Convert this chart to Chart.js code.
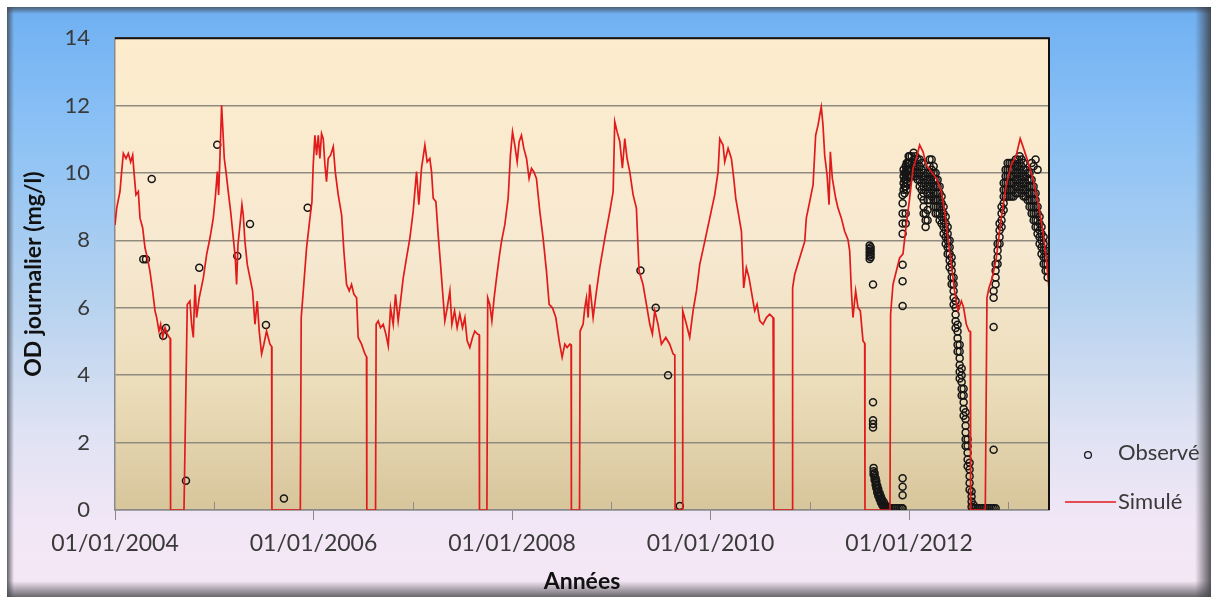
<!DOCTYPE html>
<html><head><meta charset="utf-8">
<script src="https://cdn.jsdelivr.net/npm/chart.js@4.4.1/dist/chart.umd.min.js"></script>
<style>html,body{margin:0;padding:0;background:#fff}#wrap{width:1211px;height:597px}</style>
</head><body><div id="wrap"><canvas id="c" width="1211" height="597"></canvas></div>
<script>
// ---- data (dates as decimal years, values in mg/l) ----
const yTicks = [0, 2, 4, 6, 8, 10, 12, 14];
const yearTicks = [2004, 2005, 2006, 2007, 2008, 2009, 2010, 2011, 2012, 2013];
const xMin = 2004, xMax = 2013.41;

const simDates = [
2004.000,2004.017,2004.050,2004.067,2004.084,2004.111,2004.134,2004.158,2004.178,2004.191,2004.211,2004.235,2004.252,2004.279,2004.302,2004.326,2004.352,2004.379,2004.403,2004.420,2004.443,2004.460,2004.480,2004.504,2004.527,2004.547,2004.556,2004.560,
2004.695,2004.728,2004.755,2004.772,2004.789,2004.806,2004.822,2004.849,2004.890,2004.923,2004.957,2004.990,2005.010,2005.031,2005.044,2005.057,2005.074,2005.088,2005.101,2005.118,2005.141,2005.165,2005.192,2005.212,2005.225,2005.239,2005.259,2005.279,2005.292,2005.309,2005.333,2005.360,2005.386,2005.410,2005.433,2005.453,2005.477,2005.500,2005.527,2005.561,2005.578,2005.581,
2005.867,2005.876,2005.897,2005.930,2005.964,2005.984,2005.997,2006.014,2006.031,2006.048,2006.064,2006.081,2006.098,2006.115,2006.131,2006.148,2006.172,2006.199,2006.219,2006.249,2006.283,2006.306,2006.333,2006.360,2006.383,2006.407,2006.434,2006.450,2006.484,2006.518,2006.534,2006.537,
2006.625,2006.631,2006.652,2006.675,2006.702,2006.729,2006.753,2006.776,2006.803,2006.826,2006.853,2006.877,2006.904,2006.937,2006.971,2007.004,2007.038,2007.061,2007.088,2007.122,2007.145,2007.172,2007.189,2007.206,2007.233,2007.256,2007.280,2007.300,2007.323,2007.347,2007.374,2007.394,2007.421,2007.447,2007.474,2007.501,2007.525,2007.548,2007.575,2007.602,2007.625,2007.652,2007.669,2007.672,
2007.747,2007.755,2007.776,2007.797,2007.820,2007.844,2007.870,2007.894,2007.927,2007.961,2007.984,2008.005,2008.028,2008.052,2008.072,2008.095,2008.119,2008.146,2008.172,2008.196,2008.219,2008.246,2008.280,2008.313,2008.347,2008.374,2008.407,2008.441,2008.475,2008.505,2008.532,2008.555,2008.582,2008.595,2008.598,
2008.680,2008.686,2008.716,2008.733,2008.750,2008.767,2008.783,2008.817,2008.851,2008.884,2008.935,2008.985,2009.019,2009.035,2009.059,2009.086,2009.112,2009.136,2009.159,2009.186,2009.220,2009.253,2009.280,2009.320,2009.354,2009.388,2009.414,2009.438,2009.471,2009.505,2009.549,2009.589,2009.623,2009.640,2009.643,
2009.714,2009.720,2009.757,2009.790,2009.824,2009.858,2009.891,2009.942,2009.992,2010.042,2010.076,2010.093,2010.126,2010.143,2010.177,2010.210,2010.234,2010.254,2010.277,2010.311,2010.334,2010.361,2010.388,2010.422,2010.445,2010.469,2010.496,2010.529,2010.563,2010.596,2010.630,2010.636,2010.639,
2010.821,2010.827,2010.848,2010.898,2010.949,2010.965,2010.999,2011.033,2011.059,2011.083,2011.106,2011.116,2011.133,2011.150,2011.174,2011.194,2011.207,2011.227,2011.261,2011.284,2011.318,2011.351,2011.385,2011.402,2011.419,2011.435,2011.462,2011.486,2011.509,2011.536,2011.553,2011.556,
2011.808,2011.814,2011.838,2011.872,2011.905,2011.939,2011.972,2012.006,2012.040,2012.073,2012.107,2012.141,2012.174,2012.224,2012.275,2012.325,2012.359,2012.392,2012.426,2012.459,2012.493,2012.527,2012.550,2012.577,2012.604,2012.617,2012.620,
2012.768,2012.785,2012.805,2012.839,2012.879,2012.929,2012.980,2013.030,2013.080,2013.120,2013.154,2013.198,2013.248,2013.298,2013.349,2013.382,2013.409];

const simOD = [
8.46,8.96,9.45,10.04,10.58,10.43,10.58,10.33,10.53,10.04,9.35,9.45,8.66,8.37,7.78,7.48,7.09,6.50,5.91,5.71,5.31,5.51,5.12,5.41,5.22,5.12,5.10,0,
0,6.10,6.20,5.51,5.12,6.69,5.71,6.30,6.89,7.58,8.07,8.66,9.25,10.04,9.35,10.43,12.01,11.22,10.43,10.04,9.45,8.86,8.07,7.48,6.69,7.87,8.46,9.06,8.76,7.97,7.28,6.89,6.50,5.51,6.20,5.31,4.63,4.92,5.31,4.92,4.85,0,
0,5.71,6.50,7.78,8.66,9.15,10.24,11.12,10.53,11.12,10.43,11.17,11.02,10.24,9.74,10.43,10.53,10.78,10.04,9.35,8.76,7.68,6.69,6.50,6.69,6.40,6.30,5.12,4.92,4.63,4.55,0,
0,5.51,5.61,5.41,5.51,5.22,4.87,6.00,5.51,6.40,5.61,6.20,6.89,7.48,8.07,8.86,10.04,9.06,10.14,10.83,10.33,10.43,10.04,9.25,9.15,8.17,7.28,6.50,5.61,6.00,6.50,5.51,5.91,5.41,5.81,5.41,5.71,5.02,4.82,5.12,5.31,5.22,5.20,0,
0,6.30,6.10,5.61,6.30,6.89,7.48,7.97,8.46,9.25,10.53,11.22,10.83,10.33,10.93,11.12,10.73,10.43,9.84,10.14,10.04,9.84,8.86,8.07,7.09,6.10,6.00,5.71,5.02,4.53,4.92,4.82,4.92,4.90,0,
0,5.31,5.51,6.00,6.30,5.71,6.69,5.71,6.50,7.19,8.07,8.86,9.45,11.52,11.22,10.93,10.14,11.02,10.43,10.04,9.35,8.96,7.09,6.69,6.10,5.51,5.22,5.91,5.51,4.92,5.12,4.92,4.63,4.60,0,
0,5.91,5.51,5.12,5.91,6.50,7.28,7.97,8.66,9.35,10.04,11.02,10.83,10.33,10.73,10.43,9.84,9.25,8.86,8.27,6.59,7.19,6.89,6.30,5.91,6.10,5.61,5.51,5.71,5.81,5.71,5.70,0,
0,6.59,6.99,7.48,7.97,8.66,9.15,9.65,11.12,11.42,11.81,11.96,11.42,10.53,9.94,9.06,10.63,9.84,9.25,8.96,8.66,8.27,8.02,7.68,6.50,5.71,6.50,6.00,5.91,5.02,4.95,0,
0,5.81,6.69,7.09,7.48,7.60,8.46,9.25,10.14,10.43,10.83,10.63,10.24,10.04,9.84,9.45,8.86,8.07,7.28,6.50,5.91,6.20,6.00,5.51,5.31,5.30,0,
0,6.30,6.59,6.89,7.48,8.66,9.65,10.24,10.53,11.02,10.73,10.33,9.84,9.15,8.27,7.48,6.59];

// isolated observations
const obsDates = [2004.285,2004.312,2004.370,2004.486,2004.514,2004.715,2004.849,2005.030,2005.232,2005.360,2005.521,2005.702,2005.941,2009.294,2009.448,2009.572,2009.690];
const obsOD    = [7.44,7.44,9.82,5.17,5.40,0.87,7.19,10.84,7.54,8.49,5.49,0.34,8.97,7.11,6.00,4.00,0.12];

// dense observation period (one date, several readings)
const obsColDates = [
2011.603,2011.613,2011.637,2011.643,2011.653,2011.663,2011.670,2011.680,2011.690,2011.704,2011.717,2011.731,2011.748,2011.771,2011.784,2011.794,2011.804,2011.824,2011.844,2011.864,2011.885,2011.905,2011.925,
2011.935,2011.945,2011.955,2011.966,2011.976,2011.986,2011.996,2012.006,2012.026,2012.046,2012.066,2012.087,2012.107,2012.127,2012.147,2012.167,2012.187,2012.207,2012.228,2012.248,2012.268,2012.288,2012.308,2012.328,2012.348,2012.369,2012.389,2012.409,2012.429,2012.449,2012.469,2012.489,2012.510,2012.530,2012.550,2012.570,2012.590,2012.610,2012.630,2012.650,2012.671,2012.691,2012.711,2012.731,2012.751,2012.771,2012.791,2012.812,2012.832,2012.852,2012.872,2012.892,2012.912,2012.932,2012.953,2012.973,2012.993,2013.013,2013.033,2013.053,2013.074,2013.094,2013.114,2013.134,2013.154,2013.174,2013.194,2013.214,2013.235,2013.255,2013.275,2013.295,2013.315,2013.335,2013.356,2013.376,2013.396];
const obsColOD = [
[7.45,7.55,7.65,7.75,7.85],[7.5,7.6,7.7,7.8],[6.69,3.20,2.66,2.55,2.45],[1.25,1.15,1.05],[1.1,1.0,0.9],[0.95,0.85,0.75],[0.85,0.75,0.65],[0.72,0.62,0.52],[0.62,0.52,0.42],[0.5,0.4,0.32],[0.4,0.3,0.22],[0.3,0.22,0.14],[0.22,0.14,0.07],[0.12,0.06],[0.08,0.04],[0.05],[0.05],[0.05],[0.05],[0.05],[0.05],[0.05],[0.05],
[6.05,6.79,7.28,8.2,8.5,8.8,9.1,9.35,0.44,0.69,0.94,0.05],[9.5,9.7,9.9,10.1],[9.4,9.6,9.8,10.0],[8.5,8.8,9.6,9.8,10.0,10.2],[9.5,9.7,9.9,10.1,10.3],[9.7,9.9,10.1,10.3],[9.9,10.1,10.3,10.5],[9.9,10.1,10.3,10.5],[9.9,10.1,10.3,10.5],[10.0,10.2,10.4,10.6],[9.9,10.1,10.3,10.5],[9.8,10.0,10.2,10.4],[9.6,9.8,10.0,10.2,10.4],[9.3,9.5,9.7,9.9,10.1,10.3],[8.8,9.0,9.2,9.4,9.6,9.8,10.0],[8.4,8.6,8.8,9.5,9.7,9.9],[8.6,8.9,9.2,9.4,9.6,9.8,10.0],[9.2,9.4,9.6,9.8,10.0,10.2,10.4],[9.3,9.5,9.7,9.9,10.1,10.4],[9.0,9.2,9.4,9.6,9.8,10.0,10.2],[8.8,9.0,9.2,9.4,9.6,9.8,10.0],[8.8,9.0,9.2,9.4,9.6,9.8],[8.6,8.8,9.0,9.2,9.4,9.6],[8.5,8.7,8.9,9.1,9.3],[8.2,8.4,8.6,8.8,9.0],[7.9,8.1,8.3,8.5,8.7],[7.6,7.8,8.0,8.2,8.4],[7.2,7.4,7.6,7.8,8.0],[6.7,6.9,7.1,7.3,7.5],[6.1,6.3,6.5,6.7,6.9],[5.4,5.6,5.8,6.0,6.2],[4.7,4.9,5.1,5.3,5.5],[3.9,4.1,4.3,4.5,4.7,4.9],[3.4,3.6,3.8,4.0,4.2],[2.8,3.0,3.2,3.4,3.6],[1.9,2.1,2.3,2.5,2.7,2.9],[1.3,1.5,1.7,1.9,2.1],[0.6,0.8,1.0,1.2,1.4],[0.1,0.25,0.4,0.55],[0.05,0.15],[0.05],[0.05],[0.05],[0.05],[0.05],[0.05],[0.05],[0.05],[0.05],[0.05,1.79,5.43,6.3,6.5],[0.05,6.7,6.9,7.1,7.3],[7.3,7.5,7.7,7.9],[7.9,8.1,8.3,8.5],[8.4,8.6,8.8,9.0],[8.9,9.1,9.3,9.5,9.7],[9.3,9.5,9.7,9.9,10.1],[9.3,9.5,9.7,9.9,10.1,10.3],[9.3,9.5,9.7,9.9,10.1,10.3],[9.3,9.5,9.7,9.9,10.1,10.3],[9.3,9.5,9.7,9.9,10.1,10.3],[9.4,9.6,9.8,10.0,10.2,10.4],[9.4,9.6,9.8,10.0,10.2,10.4],[9.5,9.7,9.9,10.1,10.3,10.5],[9.4,9.6,9.8,10.0,10.2,10.4],[9.3,9.5,9.7,9.9,10.1,10.3],[9.3,9.5,9.7,9.9,10.1],[9.2,9.4,9.6,9.8,10.0],[9.0,9.2,9.4,9.6,9.8,10.0],[8.8,9.0,9.2,9.4,9.6,9.8,10.3],[8.6,8.8,9.0,9.2,9.4,9.6,10.2],[8.4,8.6,8.8,9.0,9.2,9.4,10.4],[8.2,8.4,8.6,8.8,9.0,10.1],[7.9,8.1,8.3,8.5,8.7],[7.6,7.8,8.0,8.2,8.4],[7.3,7.5,7.7,7.9,8.1],[7.1,7.3,7.5,7.7],[6.9,7.1,7.3,7.5]];

const labels = { y: 'OD journalier (mg/l)', x: 'Années', obs: 'Observé', sim: 'Simulé' };

// ---- build datasets ----
const simPts = simDates.map((d, i) => ({ x: d, y: simOD[i] }));
const obsPts = obsDates.map((d, i) => ({ x: d, y: obsOD[i] }));
obsColDates.forEach((d, i) => obsColOD[i].forEach(v => obsPts.push({ x: d, y: v })));

const FONT = 'Lato';
const RED = '#e11b1b';
const OBS = '#161616';

const decor = {
  id: 'decor',
  beforeDraw(chart) {
    const { ctx, width, height, chartArea: a } = chart;
    ctx.save();
    ctx.fillStyle = '#ffffff';
    ctx.fillRect(0, 0, width, height);
    const g = ctx.createLinearGradient(0, 7, 0, height);
    g.addColorStop(0, '#6fb0f2');
    g.addColorStop(0.22, '#8dc2f5');
    g.addColorStop(0.5, '#b6d2ef');
    g.addColorStop(0.72, '#dfe2f3');
    g.addColorStop(0.88, '#f2e7f6');
    g.addColorStop(1, '#f5e6f4');
    ctx.fillStyle = g;
    ctx.fillRect(7, 7, width - 7, height - 7);
    let s = ctx.createLinearGradient(0, 7, 0, 14);
    s.addColorStop(0, 'rgba(70,80,95,0.85)'); s.addColorStop(1, 'rgba(70,80,95,0)');
    ctx.fillStyle = s; ctx.fillRect(7, 7, width - 7, 7);
    s = ctx.createLinearGradient(7, 0, 14, 0);
    s.addColorStop(0, 'rgba(70,75,85,0.85)'); s.addColorStop(1, 'rgba(70,75,85,0)');
    ctx.fillStyle = s; ctx.fillRect(7, 7, 7, height - 7);
    s = ctx.createLinearGradient(width - 16, 0, width, 0);
    s.addColorStop(0, 'rgba(60,60,65,0)'); s.addColorStop(1, 'rgba(60,60,65,0.85)');
    ctx.fillStyle = s; ctx.fillRect(width - 16, 7, 16, height - 7);
    s = ctx.createLinearGradient(0, height - 16, 0, height);
    s.addColorStop(0, 'rgba(70,70,75,0)'); s.addColorStop(1, 'rgba(70,70,75,0.8)');
    ctx.fillStyle = s; ctx.fillRect(7, height - 16, width - 7, 16);
    const p = ctx.createLinearGradient(0, a.top, 0, a.bottom);
    p.addColorStop(0, '#fdedcd');
    p.addColorStop(0.45, '#f7e9d1');
    p.addColorStop(0.75, '#ebdcb9');
    p.addColorStop(1, '#d7c59b');
    ctx.fillStyle = p;
    ctx.fillRect(a.left, a.top, a.right - a.left, a.bottom - a.top);
    ctx.restore();
  },
  afterDraw(chart) {
    const { ctx, chartArea: a, scales } = chart;
    ctx.save();
    ctx.strokeStyle = '#111';
    ctx.lineWidth = 2;
    ctx.beginPath();
    ctx.moveTo(a.left, a.top); ctx.lineTo(a.right, a.top); ctx.lineTo(a.right, a.bottom);
    ctx.stroke();
    ctx.strokeStyle = '#8a8a8a';
    ctx.lineWidth = 1;
    yearTicks.filter(y => y % 2 === 1).forEach(y => {
      const x = Math.round(scales.x.getPixelForValue(y)) + 0.5;
      ctx.beginPath(); ctx.moveTo(x, a.bottom); ctx.lineTo(x, a.bottom - 8); ctx.stroke();
    });
    const lx = a.right + 39, ly1 = a.bottom - 57, ly2 = a.bottom - 8;
    ctx.strokeStyle = OBS; ctx.lineWidth = 1.3;
    ctx.beginPath(); ctx.arc(lx, ly1 + 2, 3.4, 0, Math.PI * 2); ctx.stroke();
    ctx.strokeStyle = RED; ctx.lineWidth = 1.6;
    ctx.beginPath(); ctx.moveTo(a.right + 16, ly2); ctx.lineTo(a.right + 67, ly2); ctx.stroke();
    ctx.fillStyle = '#3a3a3a';
    ctx.font = '22px ' + FONT;
    ctx.textBaseline = 'middle';
    ctx.textAlign = 'left';
    ctx.fillText(labels.obs, a.right + 69, ly1);
    ctx.fillText(labels.sim, a.right + 69, ly2);
    ctx.restore();
  }
};

new Chart(document.getElementById('c'), {
  type: 'scatter',
  data: {
    datasets: [
      { label: labels.sim, data: simPts, showLine: true, borderColor: RED, borderWidth: 1.7,
        pointRadius: 0, pointHoverRadius: 0, tension: 0, order: 0 },
      { label: labels.obs, data: obsPts, showLine: false, pointStyle: 'circle', pointRadius: 3.5,
        borderColor: OBS, borderWidth: 1.5, backgroundColor: 'rgba(0,0,0,0)', order: 1 }
    ]
  },
  options: {
    responsive: false,
    animation: false,
    devicePixelRatio: 1,
    layout: { padding: { left: 0, top: 36, right: 162, bottom: 0 } },
    plugins: { legend: { display: false }, tooltip: { enabled: false } },
    scales: {
      x: {
        type: 'linear', min: xMin, max: xMax,
        afterBuildTicks: s => { s.ticks = yearTicks.map(v => ({ value: v })); },
        afterFit: s => { s.height = 87; },
        ticks: { autoSkip: false, maxRotation: 0, minRotation: 0, padding: 10, color: '#3a3a3a',
          font: { family: FONT, size: 23 },
          callback: v => (v % 2 === 0 ? '01/01/' + v : '') },
        grid: { drawOnChartArea: false, drawTicks: true, tickLength: 10,
          tickColor: c => (c.tick && c.tick.value % 2 === 0 ? '#8a8a8a' : 'rgba(0,0,0,0)'), tickWidth: 1 },
        border: { color: '#8a8a8a', width: 1.5 },
        title: { display: true, text: labels.x, color: '#111', font: { family: FONT, size: 23, weight: 'bold' },
          padding: { top: 0, bottom: 2 } }
      },
      y: {
        min: 0, max: 14,
        afterBuildTicks: s => { s.ticks = yTicks.map(v => ({ value: v })); },
        afterFit: s => { s.width = 115; },
        ticks: { padding: 25, color: '#3a3a3a', font: { family: FONT, size: 22 } },
        grid: { color: '#8f8b80', lineWidth: 1.5, drawTicks: false },
        border: { color: '#8a8a8a', width: 1.5 },
        title: { display: true, text: labels.y, color: '#111', font: { family: FONT, size: 23, weight: 'bold' },
          padding: { top: 20, bottom: 0 } }
      }
    }
  },
  plugins: [decor]
});
</script></body></html>
